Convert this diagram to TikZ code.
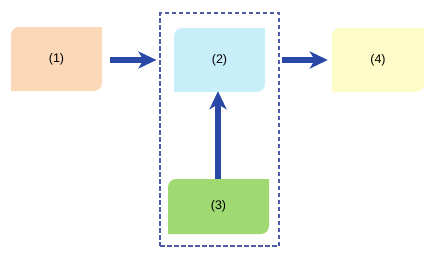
\documentclass[tikz,border=0pt]{standalone}
\usepackage{fontspec}
\setmainfont{Liberation Sans}
\usepackage{xcolor}
\usetikzlibrary{arrows.meta,positioning,calc}

\definecolor{boxorange}{HTML}{FAD8B8}
\definecolor{boxcyan}{HTML}{C8EEF9}
\definecolor{boxgreen}{HTML}{A0D872}
\definecolor{boxyellow}{HTML}{FDFBC8}
\definecolor{arrowblue}{HTML}{2A48A6}
\definecolor{dashblue}{HTML}{4E5CA8}

\tikzset{
  diagbox/.style={minimum width=91pt, minimum height=64pt, inner sep=0pt,
    font=\fontsize{12.5}{14}\selectfont,
    path picture={
      \fill[#1] ([yshift=-8pt]path picture bounding box.north west)
        arc[start angle=180,end angle=90,radius=8pt]
        -- (path picture bounding box.north east)
        -- ([yshift=8pt]path picture bounding box.south east)
        arc[start angle=0,end angle=-90,radius=8pt]
        -- (path picture bounding box.south west) -- cycle;
    }},
  bigarrow/.style={draw=arrowblue, line width=5.5pt,
    -{Stealth[length=18pt,width=17pt,inset=5pt]}},
  groupbox/.style={draw=dashblue, line width=1.2pt, dash pattern=on 4.5pt off 2.5pt}
}

\begin{document}
\begin{tikzpicture}[x=1pt,y=-1pt]
\useasboundingbox (0,0) rectangle (440,263);
% boxes
\node[diagbox=boxorange] (one) at (56.5,59) {(1)};
\node[diagbox=boxcyan] (two) at (219.5,60) {(2)};
\node[diagbox=boxyellow, minimum width=92pt] (four) at (378,60) {(4)};
\node[diagbox=boxgreen, minimum width=101pt, minimum height=55pt] (three) at (218.5,206.5) {(3)};
% dashed group
\node[groupbox, minimum width=119pt, minimum height=233pt, inner sep=0pt] (group) at (219.5,129.5) {};
% arrows
\draw[bigarrow] ([xshift=8pt]one.east |- two.west) -- ([xshift=-3pt]group.west |- two.west);
\draw[bigarrow] ([xshift=2pt]group.east |- two.east) -- ([xshift=-4pt]four.west);
\draw[bigarrow] (three.north -| 218,0) -- ([yshift=1pt]two.south -| 218,0);
\end{tikzpicture}
\end{document}
